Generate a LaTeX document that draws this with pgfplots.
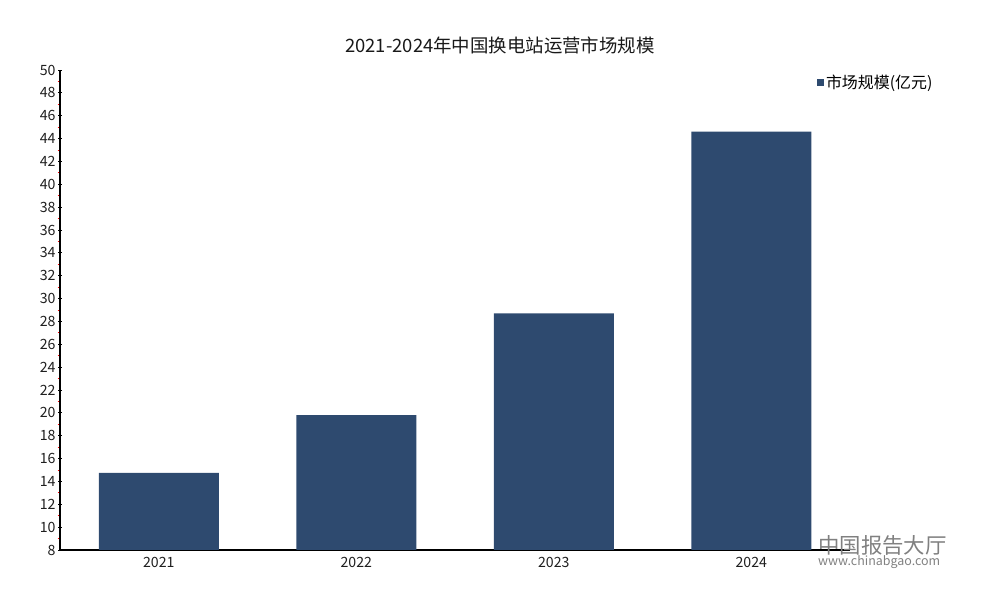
\documentclass[border=0pt]{standalone}
\usepackage{pgfplots}
\pgfplotsset{compat=1.18}
\usepackage{fontspec}
\setmainfont{Noto Sans CJK SC}
\definecolor{barblue}{HTML}{2E4A6F}
\begin{document}
\begin{tikzpicture}
\path[use as bounding box] (0,0) rectangle (1000bp,600bp);
\begin{axis}[
  at={(60bp,50bp)}, anchor=south west,
  width=790bp, height=480bp, scale only axis,
  axis lines=left, axis line style={-, black, line width=1.1bp},
  xmin=-0.5, xmax=3.5, ymin=8, ymax=50,
  xtick={0,1,2,3}, xticklabels={2021,2022,2023,2024},
  ytick={8,10,...,50}, minor ytick={9,11,...,49},
  tick align=center, major tick length=4bp, minor tick length=2.5bp,
  tick style={black, line width=0.8bp},
  minor y tick style={red, xshift=-1.2bp},
  x tick style={draw=none},
  ticklabel style={font=\fontsize{14.2}{16}\selectfont, text=black!88},
  yticklabel style={xshift=1bp},
  /pgf/number format/assume math mode=true,
  /pgf/number format/1000 sep={},
  ybar, bar width=120bp,
  legend style={draw=none, fill=none, at={(0.958,0.973)}, anchor=west,
    font=\fontsize{16}{18}\selectfont, inner sep=0pt},
  legend image code/.code={\fill[barblue] (0bp,-3.5bp) rectangle (7bp,3.5bp);},
]
\addplot[fill=barblue, draw=none] coordinates {
  (0,14.75) (1,19.8) (2,28.7) (3,44.6)
};
\addlegendentry{市场规模(亿元)}
\end{axis}
\node[font=\fontsize{18.5}{20}\selectfont, text=black!90] at (500bp,555bp) {2021-2024年中国换电站运营市场规模};
\node[font=\fontsize{21.5}{23}\selectfont, text=black!50, anchor=west, inner sep=0pt] at (818bp,55bp) {中国报告大厅};
\node[font=\fontsize{12.5}{14}\selectfont, text=black!50, anchor=west, inner sep=0pt] at (818bp,38bp) {www.chinabgao.com};
\end{tikzpicture}
\end{document}
